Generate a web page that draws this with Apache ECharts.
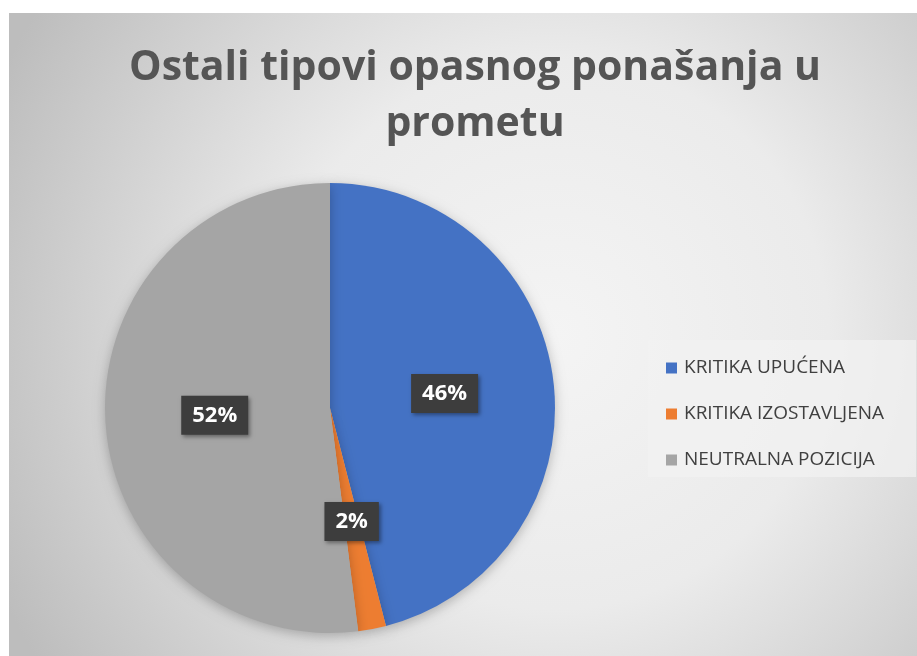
<!DOCTYPE html>
<html><head><meta charset="utf-8">
<script src="https://cdn.jsdelivr.net/npm/echarts@6/dist/echarts.min.js"></script>
<style>html,body{margin:0;padding:0;background:#fff}#c{width:917px;height:656px}</style>
</head><body><div id="c"></div>
<script>
const titleText = "Ostali tipovi opasnog ponašanja u\nprometu";
const categories = ["KRITIKA UPUĆENA", "KRITIKA IZOSTAVLJENA", "NEUTRALNA POZICIJA"];
const values = [46, 2, 52];
const colors = ["#4472C4", "#ED7D31", "#A5A5A5"];

const chart = echarts.init(document.getElementById('c'), null, {renderer: 'canvas'});
const data = categories.map((n, i) => ({name: n, value: values[i], itemStyle: {color: colors[i]}}));
chart.setOption({
  animation: false,
  graphic: [{
    type: 'rect', left: 9, top: 13, z: -10,
    shape: {width: 908, height: 643},
    style: {fill: new echarts.graphic.RadialGradient(0.6, 0.5, 0.95, [
      {offset: 0, color: '#f4f4f4'}, {offset: 0.45, color: '#ebebeb'}, {offset: 1, color: '#bdbdbd'}])}
  }, {
    type: 'rect', left: 648, top: 340, z: -5,
    shape: {width: 268, height: 137},
    style: {fill: 'rgba(242,242,242,0.75)'}
  }],
  title: {
    text: titleText, left: 470, top: 35, textAlign: 'center',
    textStyle: {fontFamily: 'Open Sans', fontWeight: 'bold', fontSize: 41, lineHeight: 56, color: '#555555'}
  },
  legend: {
    orient: 'vertical', left: 661, top: 353, itemWidth: 11, itemHeight: 11, itemGap: 26,
    icon: 'rect',
    textStyle: {fontFamily: 'Open Sans', fontSize: 19, lineHeight: 20, color: '#404040', padding: [0,0,0,2]},
    data: categories
  },
  series: [{
    type: 'pie', center: [330, 408], radius: 225, startAngle: 90, clockwise: true,
    data: data,
    itemStyle: {shadowBlur: 12, shadowColor: 'rgba(0,0,0,0.25)', shadowOffsetY: 3},
    label: {
      show: true, position: 'inside', formatter: '{d}%',
      fontFamily: 'Open Sans', fontWeight: 'bold', fontSize: 22, color: '#ffffff',
      backgroundColor: '#3d3d3d', padding: [9, 11, 8, 11],
      shadowBlur: 4, shadowColor: 'rgba(0,0,0,0.4)', shadowOffsetX: 2, shadowOffsetY: 2
    },
    labelLine: {show: false},
    emphasis: {disabled: true}
  }]
});
</script></body></html>
